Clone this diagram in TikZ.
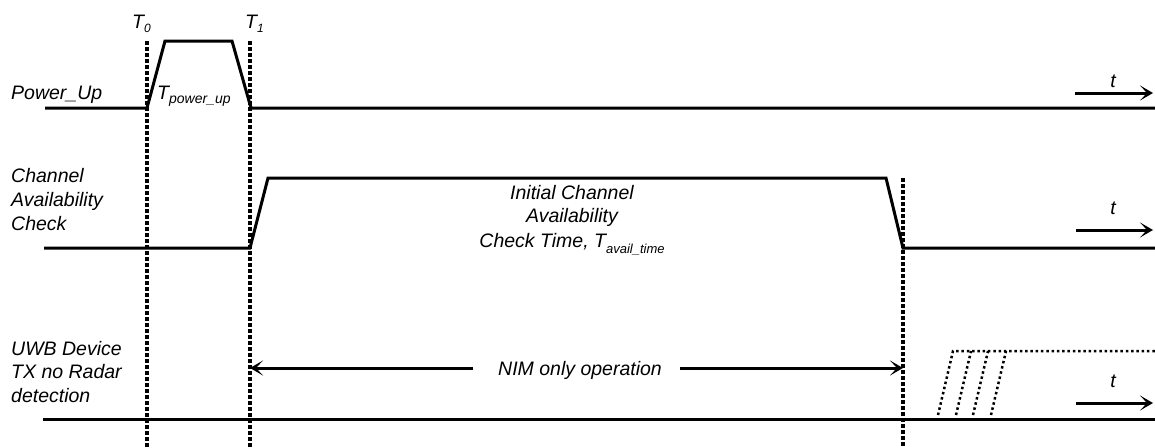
\documentclass[tikz,border=0pt]{standalone}
\usepackage{fontspec}
\setmainfont{Liberation Sans}
\usetikzlibrary{arrows.meta}
\begin{document}
\begin{tikzpicture}[x=1pt,y=-1pt,
  sig/.style={line width=3pt},
  vdot/.style={line width=3.2pt, dash pattern=on 3.5pt off 2.5pt},
  fdot/.style={line width=2.5pt, dash pattern=on 2.5pt off 2.8pt},
  arr/.style={line width=3pt, -{Stealth[length=13pt,width=15pt,inset=7pt]}},
  lbl/.style={inner sep=0pt, anchor=base west, font=\fontsize{19.5}{23}\selectfont\itshape},
  ctr/.style={inner sep=0pt, anchor=base, font=\fontsize{19.5}{23}\selectfont\itshape}
]
\useasboundingbox (0,0) rectangle (1155,447);

% time markers
\coordinate (t0top) at (147,41);  \coordinate (t0bot) at (147,447);
\coordinate (t1top) at (250,41);  \coordinate (t1bot) at (250,447);
\coordinate (t2top) at (903,178); \coordinate (t2bot) at (903,447);
\draw[vdot] (t0top) -- (t0bot);
\draw[vdot] (t1top) -- (t1bot);
\draw[vdot] (t2top) -- (t2bot);

% signal 1: Power_Up
\draw[sig] (45,108) -- (147,108) -- (165,41) -- (232,41) -- (251,108) -- (1155,108);
% signal 2: Channel Availability Check
\draw[sig] (44,248) -- (250,248) -- (268,178) -- (886,178) -- (903,248) -- (1155,248);
% signal 3: UWB device
\draw[sig] (43,419) -- (1155,419);
\draw[fdot] (938,415) -- (953,351) -- (1155,351);
\draw[fdot] (956,415) -- (971,351);
\draw[fdot] (973,415) -- (988,351);
\draw[fdot] (991,415) -- (1006,351);

% row labels
\node[lbl] (pu) at (11,99) {Power\_Up};
\node[lbl] (caA) at (11,182) {Channel};
\node[lbl] (caB) at (11,206) {Availability};
\node[lbl] (caC) at (11,230) {Check};
\node[lbl] (uwA) at (11,355) {UWB Device};
\node[lbl] (uwB) at (11,378) {TX no Radar};
\node[lbl] (uwC) at (11,402) {detection};

% time labels
\node[lbl] (T0) at (132,28) {T\raisebox{-4pt}{\fontsize{12}{12}\selectfont 0}};
\node[lbl] (T1) at (245,28) {T\raisebox{-4pt}{\fontsize{12}{12}\selectfont 1}};
\node[lbl] (Tpu) at (157,99) {T\raisebox{-4pt}{\fontsize{14}{14}\selectfont power\_up}};

% availability text
\node[ctr] (icA) at (572,199) {Initial Channel};
\node[ctr] (icB) at (572,222) {Availability};
\node[ctr] (icC) at (572,247) {Check Time, T\raisebox{-6pt}{\fontsize{13}{13}\selectfont avail\_time}};

% t axes
\node[ctr] (ta) at (1113,87) {t};
\coordinate (taS) at (1075,93); \coordinate (taE) at (1153,93);
\draw[arr] (taS) -- (taE);
\node[ctr] (tb) at (1113,214) {t};
\coordinate (tbS) at (1076,230); \coordinate (tbE) at (1153,230);
\draw[arr] (tbS) -- (tbE);
\node[ctr] (tc) at (1113,387) {t};
\coordinate (tcS) at (1076,403); \coordinate (tcE) at (1153,403);
\draw[arr] (tcS) -- (tcE);

% NIM only operation
\node[ctr] (nim) at (580,375) {NIM only operation};
\coordinate (nimL) at (473,368); \coordinate (nimR) at (680,368);
\coordinate (nimLE) at (250,368); \coordinate (nimRE) at (903,368);
\draw[arr] (nimL) -- (nimLE);
\draw[arr] (nimR) -- (nimRE);
\end{tikzpicture}
\end{document}
